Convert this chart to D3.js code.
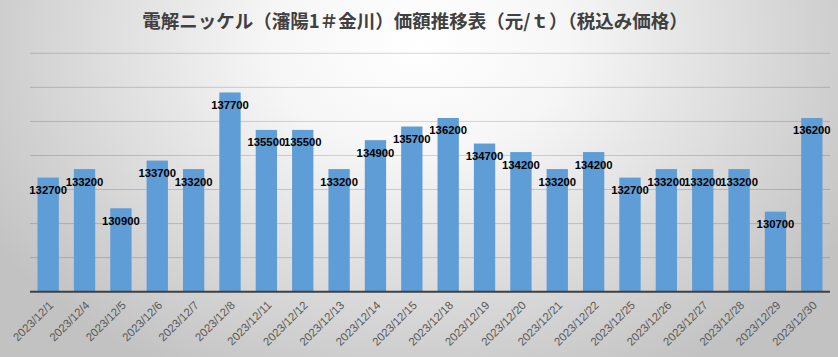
<!DOCTYPE html>
<html><head><meta charset="utf-8">
<script src="https://cdn.jsdelivr.net/npm/d3@7"></script>
<style>html,body{margin:0;padding:0;overflow:hidden;}</style>
</head><body>
<svg id="c" width="838" height="357"></svg>
<script>
const title = "電解ニッケル（瀋陽1＃金川）価額推移表（元/ｔ）（税込み価格）";
const dates = ["2023/12/1","2023/12/4","2023/12/5","2023/12/6","2023/12/7","2023/12/8","2023/12/11","2023/12/12","2023/12/13","2023/12/14","2023/12/15","2023/12/18","2023/12/19","2023/12/20","2023/12/21","2023/12/22","2023/12/25","2023/12/26","2023/12/27","2023/12/28","2023/12/29","2023/12/30"];
const prices = [132700,133200,130900,133700,133200,137700,135500,135500,133200,134900,135700,136200,134700,134200,133200,134200,132700,133200,133200,133200,130700,136200];
const yTicks = [126000,128000,130000,132000,134000,136000,138000,140000];

const svg = d3.select("#c");
const W = 838, H = 357;
const defs = svg.append("defs");
const rg = defs.append("radialGradient").attr("id","bg")
  .attr("gradientUnits","userSpaceOnUse")
  .attr("cx",W*0.5).attr("cy",H*0.12).attr("r",W*0.6)
  .attr("gradientTransform",`translate(${W*0.5},${H*0.12}) scale(1,0.75) translate(${-W*0.5},${-H*0.12})`);
rg.append("stop").attr("offset","0%").attr("stop-color","#ffffff");
rg.append("stop").attr("offset","30%").attr("stop-color","#f6f6f6");
rg.append("stop").attr("offset","100%").attr("stop-color","#c2c2c2");
svg.append("rect").attr("width",W).attr("height",H).attr("fill","url(#bg)");

const x = d3.scaleBand().domain(dates).range([30,830]).paddingInner(0.414).paddingOuter(0.207);
const y = d3.scaleLinear().domain([126000,140000]).range([291.7,53.3]);

// gridlines
svg.append("g").selectAll("line").data(yTicks.slice(1)).join("line")
  .attr("x1",30).attr("x2",830)
  .attr("y1",d=>y(d)).attr("y2",d=>y(d))
  .attr("stroke","rgba(0,0,0,0.16)").attr("stroke-width",1);

// bars
svg.append("g").selectAll("rect").data(prices).join("rect")
  .attr("x",(d,i)=>x(dates[i]))
  .attr("y",d=>y(d))
  .attr("width",x.bandwidth())
  .attr("height",d=>y(126000)-y(d))
  .attr("fill","#5f9dd6");

// baseline
svg.append("line").attr("x1",30).attr("x2",830).attr("y1",y(126000)).attr("y2",y(126000))
  .attr("stroke","#404040").attr("stroke-width",2);

// data labels
svg.append("g").selectAll("text").data(prices).join("text")
  .attr("x",(d,i)=>x(dates[i])+x.bandwidth()/2)
  .attr("y",d=>y(d)+12.5)
  .attr("dy","0.35em")
  .attr("text-anchor","middle")
  .attr("font-family","'Liberation Sans', Arial, sans-serif")
  .attr("font-weight","bold")
  .attr("font-size","11.3px")
  .attr("fill","#000")
  .text(d=>d);

// x labels
svg.append("g").selectAll("text").data(dates).join("text")
  .attr("transform",d=>`translate(${x(d)+x.bandwidth()/2+3},${303}) rotate(-45)`)
  .attr("text-anchor","end")
  .attr("dy","0.35em")
  .attr("font-family","'Liberation Sans', Arial, sans-serif")
  .attr("font-size","11.5px")
  .attr("fill","#595959")
  .text(d=>d);

// title
svg.append("text").attr("x",415).attr("y",22).attr("dy","0.35em")
  .attr("text-anchor","middle")
  .attr("font-family","'Noto Sans CJK JP', sans-serif")
  .attr("font-weight","bold")
  .attr("font-size","18.5px")
  .attr("fill","#404040")
  .text(title);
</script>
</body></html>
